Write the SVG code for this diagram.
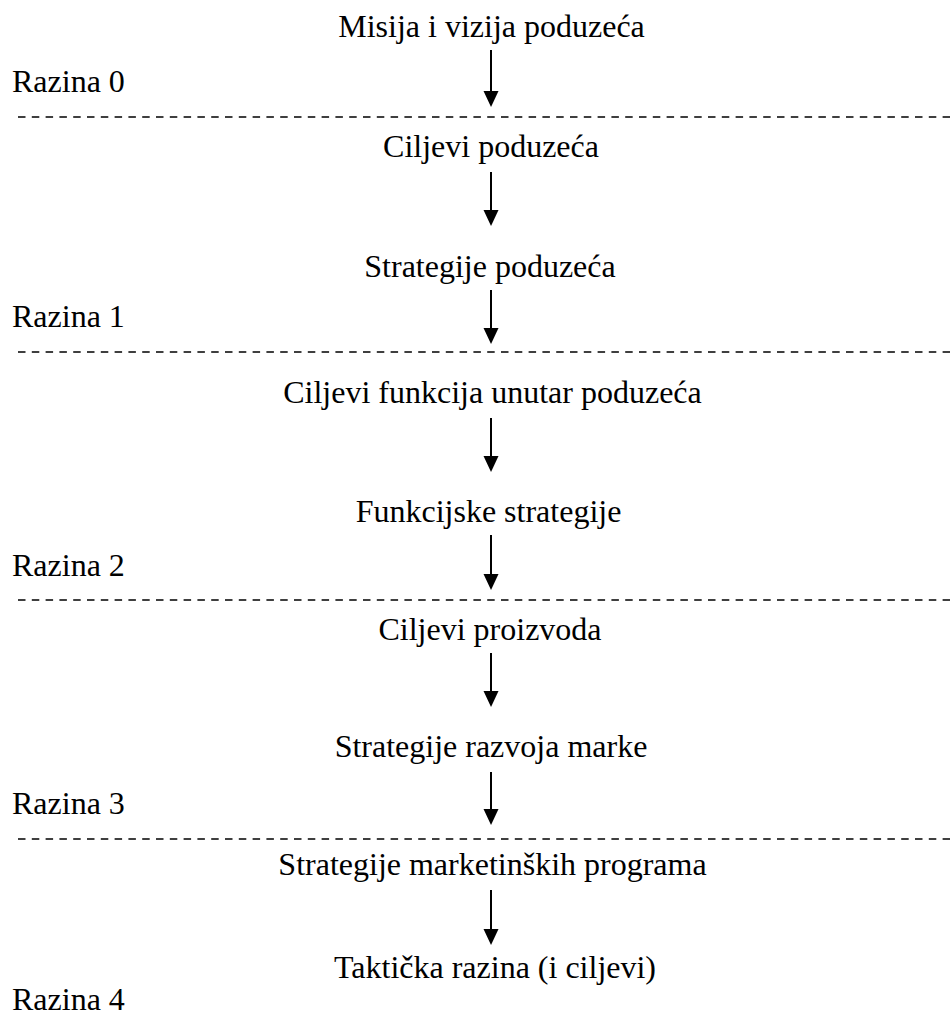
<svg xmlns="http://www.w3.org/2000/svg" width="950" height="1017" viewBox="0 0 950 1017">
<style>
  text { font-family: 'Liberation Serif', 'Times New Roman', Times, serif; font-size: 32px; fill: #000; }
  .c { text-anchor: middle; }
  .dash { stroke: #000; stroke-width: 1.6; stroke-dasharray: 7.5 6.3; fill: none; }
  .shaft { stroke: #000; stroke-width: 2; fill: none; }
</style>
<rect width="950" height="1017" fill="#fff"/>
<g id="connectors">
  <line class="dash" x1="18" y1="117" x2="950" y2="117"/>
  <line class="dash" x1="18" y1="352" x2="950" y2="352"/>
  <line class="dash" x1="18" y1="600" x2="950" y2="600"/>
  <line class="dash" x1="18" y1="839" x2="950" y2="839"/>
  <g id="arrows">
    <path class="shaft" d="M491,50 V92"/><path d="M483.5,91 L498.5,91 L491,107 Z"/>
    <path class="shaft" d="M491,172 V211"/><path d="M483.5,210 L498.5,210 L491,226 Z"/>
    <path class="shaft" d="M491,290 V329"/><path d="M483.5,328 L498.5,328 L491,344 Z"/>
    <path class="shaft" d="M491,418 V457"/><path d="M483.5,456 L498.5,456 L491,472 Z"/>
    <path class="shaft" d="M491,535 V575"/><path d="M483.5,574 L498.5,574 L491,590 Z"/>
    <path class="shaft" d="M491,653 V692"/><path d="M483.5,691 L498.5,691 L491,707 Z"/>
    <path class="shaft" d="M491,772 V810"/><path d="M483.5,809 L498.5,809 L491,825 Z"/>
    <path class="shaft" d="M491,890 V930"/><path d="M483.5,929 L498.5,929 L491,945 Z"/>
  </g>
</g>
<g font-family="Liberation Serif, serif" font-size="32">
<g id="n-misija"><text class="c" x="491.5" y="37">Misija i vizija poduzeća</text></g>
<g id="n-razina0"><text x="12" y="92">Razina 0</text></g>
<g id="n-ciljevi-poduzeca"><text class="c" x="491" y="157">Ciljevi poduzeća</text></g>
<g id="n-strategije-poduzeca"><text class="c" x="490" y="277">Strategije poduzeća</text></g>
<g id="n-razina1"><text x="12" y="327">Razina 1</text></g>
<g id="n-ciljevi-funkcija"><text class="c" x="492.5" y="403">Ciljevi funkcija unutar poduzeća</text></g>
<g id="n-funkcijske"><text class="c" x="488.5" y="522">Funkcijske strategije</text></g>
<g id="n-razina2"><text x="12" y="576">Razina 2</text></g>
<g id="n-ciljevi-proizvoda"><text class="c" x="490" y="640">Ciljevi proizvoda</text></g>
<g id="n-razvoj-marke"><text class="c" x="491" y="757">Strategije razvoja marke</text></g>
<g id="n-razina3"><text x="12" y="814">Razina 3</text></g>
<g id="n-marketinski"><text class="c" x="492.5" y="875">Strategije marketinških programa</text></g>
<g id="n-takticka"><text class="c" x="495" y="978">Taktička razina (i ciljevi)</text></g>
<g id="n-razina4"><text x="12" y="1010">Razina 4</text></g>
</g>
</svg>
